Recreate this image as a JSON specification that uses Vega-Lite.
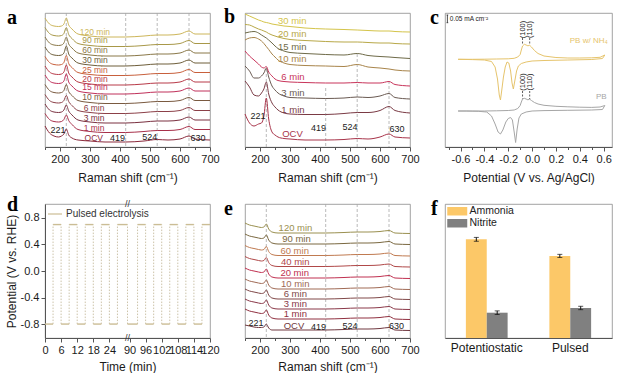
{
"$schema":"https://vega.github.io/schema/vega-lite/v6.json",
"background":"white",
"padding":{"left":4,"top":6,"right":2,"bottom":0},
"config":{
 "font":"Liberation Sans",
 "view":{"stroke":"#8c8c8c","strokeWidth":0.8},
 "axis":{"labelFont":"Liberation Sans","titleFont":"Liberation Sans","labelFontSize":11,"titleFontSize":12,"titleFontWeight":"normal","labelColor":"#1a1a1a","titleColor":"#1a1a1a","domainColor":"#555555","tickColor":"#555555","grid":false,"labelFlush":false,"labelOverlap":false,"tickSize":4,"labelPadding":2},
 "legend":{"labelFont":"Liberation Sans"},
 "title":{"font":"Liberation Serif","fontSize":20,"fontWeight":"bold","anchor":"start","frame":"group","color":"#000000","baseline":"alphabetic"}
},
"columns":3,
"spacing":{"row":57,"column":35},
"bounds":"flush",
"resolve":{"scale":{"color":"independent","xOffset":"independent"},"legend":{"color":"independent"}},
"concat":[
{
 "width":165,"height":134,
 "title":{"text":"a","dx":-38,"offset":-15},
 "resolve":{"axis":{"x":"independent"}},
 "encoding":{
  "x":{"field":"x","type":"quantitative","scale":{"domain":[150,700],"nice":false,"zero":false},"axis":null},
  "y":{"field":"y","type":"quantitative","scale":{"domain":[0,134],"reverse":true,"nice":false,"zero":false},"axis":null}
 },
 "layer":[
  {"data":{"values":[{"x":221,"y":0,"y2":134},{"x":419,"y":0,"y2":134},{"x":524,"y":0,"y2":134},{"x":630,"y":0,"y2":134}]},
   "mark":{"type":"rule","strokeDash":[3,2],"color":"#a8a8a8","strokeWidth":0.8},
   "encoding":{"x":{"field":"x","type":"quantitative","scale":{"domain":[150,700],"nice":false,"zero":false},"axis":{"orient":"bottom","values":[150,250,350,450,550,650],"labels":false,"domain":false,"title":null,"tickSize":2.5}},"y2":{"field":"y2"}}},
  {"data":{"values":[
   {"x":150,"OCV":113,"1 min":100.5,"3 min":91,"6 min":81.5,"10 min":71.5,"15 min":62,"20 min":53,"25 min":43.5,"30 min":34,"60 min":24,"90 min":14.5,"120 min":5},
   {"x":165,"OCV":120,"1 min":106.5,"3 min":97,"6 min":87.5,"10 min":77.5,"15 min":68,"20 min":59,"25 min":49.5,"30 min":40,"60 min":30,"90 min":20.5,"120 min":11},
   {"x":180,"OCV":123,"1 min":108.5,"3 min":99,"6 min":89.5,"10 min":79.5,"15 min":70,"20 min":61,"25 min":51.5,"30 min":42,"60 min":32,"90 min":22.5,"120 min":13},
   {"x":195,"OCV":124,"1 min":109,"3 min":99.5,"6 min":90,"10 min":80,"15 min":70.5,"20 min":61.5,"25 min":52,"30 min":42.5,"60 min":32.5,"90 min":23,"120 min":13.5},
   {"x":205,"OCV":123,"1 min":108.5,"3 min":99,"6 min":89.5,"10 min":79.5,"15 min":70,"20 min":61,"25 min":51.5,"30 min":42,"60 min":32,"90 min":22.5,"120 min":13},
   {"x":213,"OCV":121,"1 min":106.5,"3 min":97,"6 min":87.5,"10 min":77.5,"15 min":68,"20 min":59,"25 min":49.5,"30 min":40,"60 min":30,"90 min":20.5,"120 min":11},
   {"x":221,"OCV":116,"1 min":102,"3 min":92,"6 min":82.5,"10 min":71.5,"15 min":61,"20 min":52,"25 min":42.5,"30 min":33,"60 min":24,"90 min":14.5,"120 min":5},
   {"x":229,"OCV":122,"1 min":107.5,"3 min":98,"6 min":88.5,"10 min":78.5,"15 min":69,"20 min":60,"25 min":50.5,"30 min":41,"60 min":31,"90 min":21.5,"120 min":12},
   {"x":240,"OCV":125,"1 min":111.5,"3 min":102,"6 min":92.5,"10 min":82.5,"15 min":73,"20 min":64,"25 min":54.5,"30 min":45,"60 min":35,"90 min":25.5,"120 min":16},
   {"x":260,"OCV":127,"1 min":116.5,"3 min":107,"6 min":97.5,"10 min":87.5,"15 min":78,"20 min":69,"25 min":59.5,"30 min":50,"60 min":40,"90 min":30.5,"120 min":21},
   {"x":300,"OCV":128,"1 min":118.5,"3 min":109,"6 min":99.5,"10 min":89.5,"15 min":80,"20 min":71,"25 min":61.5,"30 min":52,"60 min":42,"90 min":32.5,"120 min":23},
   {"x":350,"OCV":129,"1 min":119.5,"3 min":110,"6 min":100.5,"10 min":90.5,"15 min":81,"20 min":72,"25 min":62.5,"30 min":53,"60 min":43,"90 min":33.5,"120 min":24},
   {"x":419,"OCV":129,"1 min":119.5,"3 min":110,"6 min":100.5,"10 min":90.5,"15 min":81,"20 min":72,"25 min":62.5,"30 min":53,"60 min":43,"90 min":33.5,"120 min":24},
   {"x":480,"OCV":128,"1 min":118.5,"3 min":109,"6 min":99.5,"10 min":89.5,"15 min":80,"20 min":71,"25 min":61.5,"30 min":52,"60 min":42,"90 min":32.5,"120 min":23},
   {"x":524,"OCV":126.5,"1 min":117.5,"3 min":108,"6 min":98.5,"10 min":88.5,"15 min":79,"20 min":70,"25 min":60.5,"30 min":51,"60 min":41,"90 min":31.5,"120 min":22},
   {"x":560,"OCV":127,"1 min":117.5,"3 min":108,"6 min":98.5,"10 min":88.5,"15 min":79,"20 min":70,"25 min":60.5,"30 min":51,"60 min":41,"90 min":31.5,"120 min":22},
   {"x":600,"OCV":126,"1 min":116.5,"3 min":107,"6 min":97.5,"10 min":87.5,"15 min":78,"20 min":69,"25 min":59.5,"30 min":50,"60 min":40,"90 min":30.5,"120 min":21},
   {"x":630,"OCV":123,"1 min":113.5,"3 min":104,"6 min":94.5,"10 min":84.5,"15 min":75,"20 min":66,"25 min":56.5,"30 min":47,"60 min":37,"90 min":27.5,"120 min":18},
   {"x":650,"OCV":126,"1 min":116.5,"3 min":107,"6 min":97.5,"10 min":87.5,"15 min":78,"20 min":69,"25 min":59.5,"30 min":50,"60 min":40,"90 min":30.5,"120 min":21},
   {"x":700,"OCV":127,"1 min":116.5,"3 min":107,"6 min":97.5,"10 min":87.5,"15 min":78,"20 min":69,"25 min":59.5,"30 min":50,"60 min":40,"90 min":30.5,"120 min":21}
  ]},
   "transform":[{"fold":["OCV","1 min","3 min","6 min","10 min","15 min","20 min","25 min","30 min","60 min","90 min","120 min"],"as":["s","y"]}],
   "mark":{"type":"line","strokeWidth":1,"interpolate":"monotone"},
   "encoding":{
    "x":{"field":"x","type":"quantitative","scale":{"domain":[150,700],"nice":false,"zero":false},"axis":{"orient":"bottom","values":[200,300,400,500,600,700],"title":"Raman shift (cm⁻¹)","titlePadding":8}},
    "y":{"field":"y","type":"quantitative","scale":{"domain":[0,134],"reverse":true,"nice":false,"zero":false},"axis":{"title":"Intensity (a.u.)","labels":false,"ticks":false,"titlePadding":6}},
    "color":{"field":"s","type":"nominal","scale":{"domain":["OCV","1 min","3 min","6 min","10 min","15 min","20 min","25 min","30 min","60 min","90 min","120 min"],"range":["#8b2a3c","#a8304a","#7a3040","#8c4048","#7a5a40","#c0305a","#b83a48","#c8603c","#6e5e3a","#8a7848","#a89848","#cdb65a"]},"legend":null}}},
  {"data":{"values":[{"s":"120 min","x":266,"y":18.7},{"s":"90 min","x":274,"y":27.3},{"s":"60 min","x":274,"y":37.3},{"s":"30 min","x":274,"y":47.3},{"s":"25 min","x":274,"y":57.3},{"s":"20 min","x":274,"y":65.7},{"s":"15 min","x":274,"y":74},{"s":"10 min","x":274,"y":84},{"s":"6 min","x":279,"y":95.3},{"s":"3 min","x":279,"y":104.7},{"s":"1 min","x":279,"y":114.7},{"s":"OCV","x":282,"y":124.7}]},
   "mark":{"type":"text","align":"left","baseline":"middle","fontSize":8.5},
   "encoding":{"text":{"field":"s"},"color":{"field":"s","type":"nominal","scale":{"domain":["OCV","1 min","3 min","6 min","10 min","15 min","20 min","25 min","30 min","60 min","90 min","120 min"],"range":["#8b2a3c","#a8304a","#7a3040","#8c4048","#7a5a40","#c0305a","#b83a48","#c8603c","#6e5e3a","#8a7848","#a89848","#cdb65a"]},"legend":null}}},
  {"data":{"values":[{"t":"221","x":193,"y":116.5},{"t":"419","x":392,"y":124.7},{"t":"524","x":499,"y":124},{"t":"630","x":660,"y":124.7}]},
   "mark":{"type":"text","align":"center","baseline":"middle","fontSize":9,"color":"#222222"},
   "encoding":{"text":{"field":"t"}}}
 ]
},
{
 "width":165,"height":134,
 "title":{"text":"b","dx":-21,"offset":-15},
 "resolve":{"axis":{"x":"independent"}},
 "encoding":{
  "x":{"field":"x","type":"quantitative","scale":{"domain":[150,700],"nice":false,"zero":false},"axis":null},
  "y":{"field":"y","type":"quantitative","scale":{"domain":[0,134],"reverse":true,"nice":false,"zero":false},"axis":null}
 },
 "layer":[
  {"data":{"values":[{"x":221,"y":56,"y2":134},{"x":419,"y":75,"y2":134},{"x":524,"y":41,"y2":134},{"x":630,"y":68,"y2":134}]},
   "mark":{"type":"rule","strokeDash":[3,2],"color":"#a8a8a8","strokeWidth":0.8},
   "encoding":{"x":{"field":"x","type":"quantitative","scale":{"domain":[150,700],"nice":false,"zero":false},"axis":{"orient":"bottom","values":[150,250,350,450,550,650],"labels":false,"domain":false,"title":null,"tickSize":2.5}},"y2":{"field":"y2"}}},
  {"data":{"values":[
   {"x":150,"OCV":101,"1 min":68,"3 min":53,"6 min":38,"10 min":27,"15 min":20,"20 min":11.5,"30 min":1},
   {"x":165,"OCV":110,"1 min":74,"3 min":58,"6 min":43,"10 min":25,"15 min":19,"20 min":12,"30 min":3},
   {"x":180,"OCV":113,"1 min":82,"3 min":65,"6 min":47,"10 min":24.5,"15 min":18.5,"20 min":14,"30 min":5},
   {"x":195,"OCV":111,"1 min":83,"3 min":65,"6 min":51,"10 min":26,"15 min":20,"20 min":16,"30 min":7},
   {"x":205,"OCV":110,"1 min":80,"3 min":63,"6 min":54,"10 min":28,"15 min":22,"20 min":17,"30 min":8},
   {"x":213,"OCV":103,"1 min":76,"3 min":60,"6 min":55,"10 min":30.5,"15 min":23.5,"20 min":18,"30 min":9},
   {"x":221,"OCV":85,"1 min":69,"3 min":55,"6 min":53.5,"10 min":33.5,"15 min":25,"20 min":19,"30 min":9.5},
   {"x":229,"OCV":106,"1 min":81,"3 min":64,"6 min":59,"10 min":36.5,"15 min":27,"20 min":20.5,"30 min":10},
   {"x":240,"OCV":119,"1 min":90,"3 min":73,"6 min":63,"10 min":41,"15 min":30,"20 min":22,"30 min":11},
   {"x":250,"OCV":122,"1 min":94,"3 min":77,"6 min":66,"10 min":44,"15 min":33,"20 min":23,"30 min":11.5},
   {"x":260,"OCV":124,"1 min":97,"3 min":80,"6 min":67.5,"10 min":47,"15 min":35.5,"20 min":24,"30 min":12},
   {"x":280,"OCV":125.5,"1 min":100,"3 min":83,"6 min":68.5,"10 min":50,"15 min":38,"20 min":25.5,"30 min":13},
   {"x":300,"OCV":126,"1 min":101,"3 min":84.5,"6 min":69,"10 min":51.5,"15 min":39.5,"20 min":26.5,"30 min":13.5},
   {"x":350,"OCV":127,"1 min":101.5,"3 min":85,"6 min":69.5,"10 min":52.5,"15 min":40.5,"20 min":27.5,"30 min":15},
   {"x":419,"OCV":127,"1 min":101.5,"3 min":85.5,"6 min":70,"10 min":53,"15 min":41.5,"20 min":28.5,"30 min":16},
   {"x":480,"OCV":126.5,"1 min":100.5,"3 min":85,"6 min":70,"10 min":53.5,"15 min":42,"20 min":29,"30 min":16.5},
   {"x":524,"OCV":125.5,"1 min":99.5,"3 min":84,"6 min":69.5,"10 min":51.5,"15 min":40.5,"20 min":29,"30 min":17},
   {"x":560,"OCV":126,"1 min":99.5,"3 min":84.5,"6 min":70,"10 min":54,"15 min":42.5,"20 min":29.5,"30 min":17.5},
   {"x":600,"OCV":124,"1 min":97.5,"3 min":83,"6 min":70,"10 min":55,"15 min":43.5,"20 min":30,"30 min":18},
   {"x":630,"OCV":121,"1 min":93.5,"3 min":80.5,"6 min":68.5,"10 min":56,"15 min":44,"20 min":30,"30 min":18},
   {"x":650,"OCV":124,"1 min":97.5,"3 min":84.5,"6 min":71.5,"10 min":57,"15 min":44.5,"20 min":30.5,"30 min":18.5},
   {"x":700,"OCV":125,"1 min":100,"3 min":86,"6 min":73,"10 min":58,"15 min":45.5,"20 min":31,"30 min":19}
  ]},
   "transform":[{"fold":["OCV","1 min","3 min","6 min","10 min","15 min","20 min","30 min"],"as":["s","y"]}],
   "mark":{"type":"line","strokeWidth":1,"interpolate":"monotone"},
   "encoding":{
    "x":{"field":"x","type":"quantitative","scale":{"domain":[150,700],"nice":false,"zero":false},"axis":{"orient":"bottom","values":[200,300,400,500,600,700],"title":"Raman shift (cm⁻¹)","titlePadding":8}},
    "y":{"field":"y","type":"quantitative","scale":{"domain":[0,134],"reverse":true,"nice":false,"zero":false},"axis":{"title":"Intensity (a.u.)","labels":false,"ticks":false,"titlePadding":2}},
    "color":{"field":"s","type":"nominal","scale":{"domain":["OCV","1 min","3 min","6 min","10 min","15 min","20 min","30 min"],"range":["#a8344a","#7a3a44","#6a5a52","#c8345a","#a8844a","#6e6a48","#b8a848","#d4c44a"]},"legend":null}}},
  {"data":{"values":[{"s":"30 min","x":260,"y":8},{"s":"20 min","x":260,"y":20.7},{"s":"15 min","x":260,"y":34},{"s":"10 min","x":260,"y":46.3},{"s":"6 min","x":271,"y":63.7},{"s":"3 min","x":271,"y":79.7},{"s":"1 min","x":271,"y":97},{"s":"OCV","x":274,"y":120.7}]},
   "mark":{"type":"text","align":"left","baseline":"middle","fontSize":9.5},
   "encoding":{"text":{"field":"s"},"color":{"field":"s","type":"nominal","scale":{"domain":["OCV","1 min","3 min","6 min","10 min","15 min","20 min","30 min"],"range":["#a8344a","#7a3a44","#6a5a52","#c8345a","#a8844a","#6e6a48","#b8a848","#d4c44a"]},"legend":null}}},
  {"data":{"values":[{"t":"221","x":193,"y":103},{"t":"419","x":395,"y":114.7},{"t":"524","x":500,"y":114},{"t":"630","x":657,"y":115.7}]},
   "mark":{"type":"text","align":"center","baseline":"middle","fontSize":9,"color":"#222222"},
   "encoding":{"text":{"field":"t"}}}
 ]
},
{
 "width":167,"height":134,
 "title":{"text":"c","dx":-15,"offset":-15},
 "resolve":{"axis":{"x":"independent"}},
 "encoding":{
  "x":{"field":"x","type":"quantitative","scale":{"domain":[-0.73,0.67],"nice":false,"zero":false},"axis":null},
  "y":{"field":"y","type":"quantitative","scale":{"domain":[0,134],"reverse":true,"nice":false,"zero":false},"axis":null}
 },
 "layer":[
  {"data":{"values":[
   {"s":"NH","o":0,"x":-0.62,"y":46.3},{"s":"NH","o":1,"x":-0.5,"y":46.3},{"s":"NH","o":2,"x":-0.4,"y":46.2},{"s":"NH","o":3,"x":-0.3,"y":46},{"s":"NH","o":4,"x":-0.2,"y":45.8},{"s":"NH","o":5,"x":-0.15,"y":45.3},{"s":"NH","o":6,"x":-0.12,"y":44},{"s":"NH","o":7,"x":-0.1,"y":41.5},{"s":"NH","o":8,"x":-0.09,"y":37},{"s":"NH","o":9,"x":-0.08,"y":33},{"s":"NH","o":10,"x":-0.065,"y":31.3},{"s":"NH","o":11,"x":-0.05,"y":32},{"s":"NH","o":12,"x":-0.035,"y":32.8},{"s":"NH","o":13,"x":-0.02,"y":32.3},{"s":"NH","o":14,"x":-0.005,"y":34},{"s":"NH","o":15,"x":0.02,"y":37.5},{"s":"NH","o":16,"x":0.05,"y":40.5},{"s":"NH","o":17,"x":0.1,"y":43},{"s":"NH","o":18,"x":0.2,"y":44.5},{"s":"NH","o":19,"x":0.3,"y":45},{"s":"NH","o":20,"x":0.4,"y":45},{"s":"NH","o":21,"x":0.5,"y":44.8},{"s":"NH","o":22,"x":0.57,"y":44.3},{"s":"NH","o":23,"x":0.61,"y":42},
   {"s":"NH","o":24,"x":0.59,"y":45.5},{"s":"NH","o":25,"x":0.5,"y":46.5},{"s":"NH","o":26,"x":0.3,"y":47},{"s":"NH","o":27,"x":0.1,"y":47.5},{"s":"NH","o":28,"x":0,"y":48},{"s":"NH","o":29,"x":-0.05,"y":49},{"s":"NH","o":30,"x":-0.09,"y":50.5},{"s":"NH","o":31,"x":-0.115,"y":53},{"s":"NH","o":32,"x":-0.13,"y":58},{"s":"NH","o":33,"x":-0.145,"y":68},{"s":"NH","o":34,"x":-0.157,"y":76},{"s":"NH","o":35,"x":-0.168,"y":70},{"s":"NH","o":36,"x":-0.18,"y":58},{"s":"NH","o":37,"x":-0.195,"y":50},{"s":"NH","o":38,"x":-0.21,"y":49},{"s":"NH","o":39,"x":-0.225,"y":54},{"s":"NH","o":40,"x":-0.24,"y":64},{"s":"NH","o":41,"x":-0.255,"y":78},{"s":"NH","o":42,"x":-0.265,"y":87},{"s":"NH","o":43,"x":-0.275,"y":82},{"s":"NH","o":44,"x":-0.29,"y":66},{"s":"NH","o":45,"x":-0.31,"y":54},{"s":"NH","o":46,"x":-0.34,"y":48.5},{"s":"NH","o":47,"x":-0.4,"y":47},{"s":"NH","o":48,"x":-0.5,"y":46.6},{"s":"NH","o":49,"x":-0.62,"y":46.3},
   {"s":"PB","o":0,"x":-0.62,"y":98},{"s":"PB","o":1,"x":-0.5,"y":98},{"s":"PB","o":2,"x":-0.4,"y":98},{"s":"PB","o":3,"x":-0.3,"y":97.8},{"s":"PB","o":4,"x":-0.2,"y":97.5},{"s":"PB","o":5,"x":-0.15,"y":97},{"s":"PB","o":6,"x":-0.12,"y":95.5},{"s":"PB","o":7,"x":-0.1,"y":92.5},{"s":"PB","o":8,"x":-0.09,"y":89},{"s":"PB","o":9,"x":-0.08,"y":86},{"s":"PB","o":10,"x":-0.065,"y":85.3},{"s":"PB","o":11,"x":-0.05,"y":86},{"s":"PB","o":12,"x":-0.035,"y":86.8},{"s":"PB","o":13,"x":-0.02,"y":86.2},{"s":"PB","o":14,"x":-0.005,"y":87.5},{"s":"PB","o":15,"x":0.02,"y":89.5},{"s":"PB","o":16,"x":0.05,"y":91},{"s":"PB","o":17,"x":0.1,"y":92.3},{"s":"PB","o":18,"x":0.2,"y":93.3},{"s":"PB","o":19,"x":0.3,"y":93.8},{"s":"PB","o":20,"x":0.4,"y":94.2},{"s":"PB","o":21,"x":0.5,"y":94.4},{"s":"PB","o":22,"x":0.57,"y":94},{"s":"PB","o":23,"x":0.61,"y":92.5},
   {"s":"PB","o":24,"x":0.59,"y":96.5},{"s":"PB","o":25,"x":0.5,"y":97},{"s":"PB","o":26,"x":0.3,"y":97.3},{"s":"PB","o":27,"x":0.1,"y":97.6},{"s":"PB","o":28,"x":0,"y":98},{"s":"PB","o":29,"x":-0.05,"y":99},{"s":"PB","o":30,"x":-0.09,"y":101},{"s":"PB","o":31,"x":-0.11,"y":105},{"s":"PB","o":32,"x":-0.125,"y":116},{"s":"PB","o":33,"x":-0.138,"y":129.5},{"s":"PB","o":34,"x":-0.15,"y":119},{"s":"PB","o":35,"x":-0.165,"y":107},{"s":"PB","o":36,"x":-0.18,"y":104.5},{"s":"PB","o":37,"x":-0.2,"y":105.5},{"s":"PB","o":38,"x":-0.22,"y":109},{"s":"PB","o":39,"x":-0.245,"y":117},{"s":"PB","o":40,"x":-0.265,"y":121},{"s":"PB","o":41,"x":-0.285,"y":119},{"s":"PB","o":42,"x":-0.31,"y":111},{"s":"PB","o":43,"x":-0.34,"y":103},{"s":"PB","o":44,"x":-0.38,"y":99},{"s":"PB","o":45,"x":-0.45,"y":98.3},{"s":"PB","o":46,"x":-0.55,"y":98},{"s":"PB","o":47,"x":-0.62,"y":98}
  ]},
   "mark":{"type":"line","strokeWidth":1},
   "encoding":{
    "x":{"field":"x","type":"quantitative","scale":{"domain":[-0.73,0.67],"nice":false,"zero":false},"axis":{"orient":"bottom","values":[-0.6,-0.4,-0.2,0,0.2,0.4,0.6],"labelExpr":"replace(format(datum.value, '.1f'), '\u2212', '-')","title":"Potential (V vs. Ag/AgCl)","titlePadding":8}},
    "y":{"field":"y","type":"quantitative","scale":{"domain":[0,134],"reverse":true,"nice":false,"zero":false},"axis":{"title":"Current density (mA cm⁻²)","labels":false,"ticks":false,"titlePadding":2}},
    "order":{"field":"o","type":"quantitative"},"color":{"field":"s","type":"nominal","scale":{"domain":["NH","PB"],"range":["#e6c46c","#a6a6a6"]},"legend":null}}},
  {"data":{"values":[{"x":-0.08,"y":25,"y2":31},{"x":-0.02,"y":25,"y2":32},{"x":-0.08,"y":78,"y2":85.5},{"x":-0.02,"y":78,"y2":86}]},
   "mark":{"type":"rule","strokeDash":[2,1.5],"color":"#333333","strokeWidth":0.8},
   "encoding":{"x":{"field":"x","type":"quantitative","scale":{"domain":[-0.73,0.67],"nice":false,"zero":false},"axis":{"orient":"bottom","values":[-0.7,-0.5,-0.3,-0.1,0.1,0.3,0.5],"labels":false,"domain":false,"title":null,"tickSize":2.5}},"y2":{"field":"y2"}}},
  {"data":{"values":[{"x":-0.08,"y":16.5,"t":"(100)"},{"x":-0.02,"y":16.5,"t":"(110)"},{"x":-0.08,"y":69,"t":"(100)"},{"x":-0.02,"y":69,"t":"(110)"}]},
   "mark":{"type":"text","angle":270,"align":"center","baseline":"middle","fontSize":7.5,"color":"#222222"},
   "encoding":{"text":{"field":"t"}}},
  {"data":{"values":[{"x":0.316,"y":28,"t":"PB w/ NH₄","s":"NH"},{"x":0.535,"y":84,"t":"PB","s":"PB"}]},
   "mark":{"type":"text","align":"left","baseline":"middle","fontSize":8},
   "encoding":{"text":{"field":"t"},"color":{"field":"s","type":"nominal","scale":{"domain":["NH","PB"],"range":["#e6c46c","#a6a6a6"]},"legend":null}}},
  {"data":{"values":[{"x":-0.71,"x2":-0.71,"y":2,"y2":9.7},{"x":-0.717,"x2":-0.703,"y":2,"y2":2},{"x":-0.717,"x2":-0.703,"y":9.7,"y2":9.7}]},
   "mark":{"type":"rule","color":"#222222","strokeWidth":0.8},
   "encoding":{"x2":{"field":"x2"},"y2":{"field":"y2"}}},
  {"data":{"values":[{"x":-0.69,"y":5.5,"t":"0.05 mA cm⁻²"}]},
   "mark":{"type":"text","align":"left","baseline":"middle","fontSize":6.5,"color":"#222222"},
   "encoding":{"text":{"field":"t"}}}
 ]
},
{
 "width":165,"height":134,
 "title":{"text":"d","dx":-38,"offset":-15},
 "encoding":{
  "x":{"field":"x","type":"quantitative","scale":{"domain":[0,61.5],"nice":false,"zero":false},"axis":{"values":[0,6,12,18,24,31.5,37.5,43.5,49.5,55.5,61.5],"labelExpr":"datum.value > 30 ? format(datum.value + 58.5, 'd') : format(datum.value, 'd')","title":"Time (min)","titlePadding":6}},
  "y":{"field":"y","type":"quantitative","scale":{"domain":[-1.01,1.01],"nice":false,"zero":false},"axis":{"values":[-0.8,-0.4,0,0.4,0.8],"labelExpr":"replace(format(datum.value, '.1f'), '\u2212', '-')","title":"Potential (V vs. RHE)","titlePadding":2}}
 },
 "layer":[
  {"data":{"values":[{"x":3,"y":-0.8,"y2":0.7},{"x":6,"y":-0.8,"y2":0.7},{"x":9,"y":-0.8,"y2":0.7},{"x":12,"y":-0.8,"y2":0.7},{"x":15,"y":-0.8,"y2":0.7},{"x":18,"y":-0.8,"y2":0.7},{"x":21,"y":-0.8,"y2":0.7},{"x":24,"y":-0.8,"y2":0.7},{"x":27,"y":-0.8,"y2":0.7},{"x":30.75,"y":-0.8,"y2":0.7},{"x":34.5,"y":-0.8,"y2":0.7},{"x":37.5,"y":-0.8,"y2":0.7},{"x":40.5,"y":-0.8,"y2":0.7},{"x":43.5,"y":-0.8,"y2":0.7},{"x":46.5,"y":-0.8,"y2":0.7},{"x":49.5,"y":-0.8,"y2":0.7},{"x":52.5,"y":-0.8,"y2":0.7},{"x":55.5,"y":-0.8,"y2":0.7},{"x":58.5,"y":-0.8,"y2":0.7}]},
   "mark":{"type":"rule","strokeDash":[1.5,1.5],"color":"#bfb493","strokeWidth":0.8},
   "encoding":{"y2":{"field":"y2"}}},
  {"data":{"values":[{"x":0,"x2":3,"y":-0.8},{"x":3,"x2":6,"y":0.7},{"x":6,"x2":9,"y":-0.8},{"x":9,"x2":12,"y":0.7},{"x":12,"x2":15,"y":-0.8},{"x":15,"x2":18,"y":0.7},{"x":18,"x2":21,"y":-0.8},{"x":21,"x2":24,"y":0.7},{"x":24,"x2":27,"y":-0.8},{"x":27,"x2":30.75,"y":0.7},{"x":30.75,"x2":34.5,"y":-0.8},{"x":34.5,"x2":37.5,"y":0.7},{"x":37.5,"x2":40.5,"y":-0.8},{"x":40.5,"x2":43.5,"y":0.7},{"x":43.5,"x2":46.5,"y":-0.8},{"x":46.5,"x2":49.5,"y":0.7},{"x":49.5,"x2":52.5,"y":-0.8},{"x":52.5,"x2":55.5,"y":0.7},{"x":55.5,"x2":58.5,"y":-0.8},{"x":58.5,"x2":61.5,"y":0.7}]},
   "mark":{"type":"rule","strokeWidth":1.4},
   "encoding":{"x2":{"field":"x2"},"color":{"datum":"Pulsed electrolysis","type":"nominal","scale":{"range":["#cbbd95"]},"legend":{"orient":"top-left","offset":2,"title":null,"symbolType":"stroke","symbolSize":196,"symbolStrokeWidth":1.2,"labelFontSize":10,"labelOffset":3,"padding":0,"labelColor":"#333333"}}}},
  {"data":{"values":[{"x":30.75,"y":1.01,"t":"//"},{"x":30.75,"y":-1.01,"t":"//"}]},
   "mark":{"type":"text","align":"center","baseline":"middle","fontSize":9,"color":"#333333"},
   "encoding":{"text":{"field":"t"}}}
 ]
},
{
 "width":165,"height":134,
 "title":{"text":"e","dx":-21,"offset":-15},
 "resolve":{"axis":{"x":"independent"}},
 "encoding":{
  "x":{"field":"x","type":"quantitative","scale":{"domain":[150,700],"nice":false,"zero":false},"axis":null},
  "y":{"field":"y","type":"quantitative","scale":{"domain":[0,134],"reverse":true,"nice":false,"zero":false},"axis":null}
 },
 "layer":[
  {"data":{"values":[{"x":221,"y":0,"y2":134},{"x":419,"y":0,"y2":134},{"x":524,"y":0,"y2":134},{"x":630,"y":0,"y2":134}]},
   "mark":{"type":"rule","strokeDash":[3,2],"color":"#a8a8a8","strokeWidth":0.8},
   "encoding":{"x":{"field":"x","type":"quantitative","scale":{"domain":[150,700],"nice":false,"zero":false},"axis":{"orient":"bottom","values":[150,250,350,450,550,650],"labels":false,"domain":false,"title":null,"tickSize":2.5}},"y2":{"field":"y2"}}},
  {"data":{"values":[
   {"x":150,"OCV":121,"1 min":105,"3 min":95,"6 min":85,"10 min":75,"20 min":64,"40 min":52.5,"60 min":41.5,"90 min":30,"120 min":19},
   {"x":165,"OCV":122,"1 min":107,"3 min":97,"6 min":87,"10 min":77,"20 min":66,"40 min":54.5,"60 min":43.5,"90 min":32,"120 min":21},
   {"x":180,"OCV":123,"1 min":108,"3 min":98,"6 min":88,"10 min":78,"20 min":67,"40 min":55.5,"60 min":44.5,"90 min":33,"120 min":22},
   {"x":195,"OCV":123.5,"1 min":109,"3 min":99,"6 min":89,"10 min":79,"20 min":68,"40 min":56.5,"60 min":45.5,"90 min":34,"120 min":23},
   {"x":205,"OCV":123.5,"1 min":109.5,"3 min":99.5,"6 min":89.5,"10 min":79.5,"20 min":68.5,"40 min":57,"60 min":46,"90 min":34.5,"120 min":23.5},
   {"x":213,"OCV":123,"1 min":109,"3 min":99,"6 min":89,"10 min":79,"20 min":68,"40 min":56.5,"60 min":45.5,"90 min":34,"120 min":23},
   {"x":221,"OCV":120,"1 min":106,"3 min":96,"6 min":86,"10 min":76,"20 min":65,"40 min":53.5,"60 min":42.5,"90 min":31,"120 min":20},
   {"x":229,"OCV":124,"1 min":111,"3 min":101,"6 min":91,"10 min":81,"20 min":70,"40 min":58.5,"60 min":47.5,"90 min":36,"120 min":25},
   {"x":240,"OCV":126,"1 min":114,"3 min":104,"6 min":94,"10 min":84,"20 min":73,"40 min":61.5,"60 min":50.5,"90 min":39,"120 min":28},
   {"x":260,"OCV":126,"1 min":115,"3 min":105,"6 min":95,"10 min":85,"20 min":74,"40 min":62.5,"60 min":51.5,"90 min":40,"120 min":29},
   {"x":300,"OCV":126,"1 min":115,"3 min":105,"6 min":95,"10 min":85,"20 min":74,"40 min":62.5,"60 min":51.5,"90 min":40,"120 min":29},
   {"x":350,"OCV":126,"1 min":115,"3 min":105,"6 min":95,"10 min":85,"20 min":74,"40 min":62.5,"60 min":51.5,"90 min":40,"120 min":29},
   {"x":419,"OCV":126,"1 min":115,"3 min":105,"6 min":95,"10 min":85,"20 min":74,"40 min":62.5,"60 min":51.5,"90 min":40,"120 min":29},
   {"x":480,"OCV":125.5,"1 min":114.5,"3 min":104.5,"6 min":94.5,"10 min":84.5,"20 min":73.5,"40 min":62,"60 min":51,"90 min":39.5,"120 min":28.5},
   {"x":524,"OCV":125,"1 min":114,"3 min":104,"6 min":94,"10 min":84,"20 min":73,"40 min":61.5,"60 min":50.5,"90 min":39,"120 min":28},
   {"x":560,"OCV":125,"1 min":114,"3 min":104,"6 min":94,"10 min":84,"20 min":73,"40 min":61.5,"60 min":50.5,"90 min":39,"120 min":28},
   {"x":600,"OCV":124.5,"1 min":113.5,"3 min":103.5,"6 min":93.5,"10 min":83.5,"20 min":72.5,"40 min":61,"60 min":50,"90 min":38.5,"120 min":27.5},
   {"x":630,"OCV":123.5,"1 min":112.5,"3 min":102.5,"6 min":92.5,"10 min":82.5,"20 min":71.5,"40 min":60,"60 min":49,"90 min":37.5,"120 min":26.5},
   {"x":650,"OCV":126,"1 min":115,"3 min":105,"6 min":95,"10 min":85,"20 min":74,"40 min":62.5,"60 min":51.5,"90 min":40,"120 min":29},
   {"x":700,"OCV":126.5,"1 min":115.5,"3 min":105.5,"6 min":95.5,"10 min":85.5,"20 min":74.5,"40 min":63,"60 min":52,"90 min":40.5,"120 min":29.5}
  ]},
   "transform":[{"fold":["OCV","1 min","3 min","6 min","10 min","20 min","40 min","60 min","90 min","120 min"],"as":["s","y"]}],
   "mark":{"type":"line","strokeWidth":1,"interpolate":"monotone"},
   "encoding":{
    "x":{"field":"x","type":"quantitative","scale":{"domain":[150,700],"nice":false,"zero":false},"axis":{"orient":"bottom","values":[200,300,400,500,600,700],"title":"Raman shift (cm⁻¹)","titlePadding":6}},
    "y":{"field":"y","type":"quantitative","scale":{"domain":[0,134],"reverse":true,"nice":false,"zero":false},"axis":{"title":"Intensity (a.u.)","labels":false,"ticks":false,"titlePadding":2}},
    "color":{"field":"s","type":"nominal","scale":{"domain":["OCV","1 min","3 min","6 min","10 min","20 min","40 min","60 min","90 min","120 min"],"range":["#703840","#903040","#8a3848","#804848","#a06a55","#c03050","#b04848","#c07a50","#7a6840","#9a9050"]},"legend":null}}},
  {"data":{"values":[{"s":"120 min","x":262,"y":24.3},{"s":"90 min","x":274,"y":35.3},{"s":"60 min","x":268,"y":46.7},{"s":"40 min","x":270,"y":57.7},{"s":"20 min","x":268,"y":69.3},{"s":"10 min","x":270,"y":80.3},{"s":"6 min","x":279,"y":90.3},{"s":"3 min","x":279,"y":100.3},{"s":"1 min","x":279,"y":110.3},{"s":"OCV","x":279,"y":122}]},
   "mark":{"type":"text","align":"left","baseline":"middle","fontSize":9.5},
   "encoding":{"text":{"field":"s"},"color":{"field":"s","type":"nominal","scale":{"domain":["OCV","1 min","3 min","6 min","10 min","20 min","40 min","60 min","90 min","120 min"],"range":["#703840","#903040","#8a3848","#804848","#a06a55","#c03050","#b04848","#c07a50","#7a6840","#9a9050"]},"legend":null}}},
  {"data":{"values":[{"t":"221","x":187,"y":119.3},{"t":"419","x":395,"y":122.7},{"t":"524","x":500,"y":122},{"t":"630","x":655,"y":122}]},
   "mark":{"type":"text","align":"center","baseline":"middle","fontSize":9,"color":"#222222"},
   "encoding":{"text":{"field":"t"}}}
 ]
},
{
 "width":167,"height":134,
 "title":{"text":"f","dx":-14,"offset":-15},
 "data":{"values":[
  {"c":"Potentiostatic","p":"Ammonia","v":81.5,"lo":79.9,"hi":83.1},
  {"c":"Potentiostatic","p":"Nitrite","v":20.9,"lo":19.4,"hi":22.4},
  {"c":"Pulsed","p":"Ammonia","v":67.8,"lo":66.5,"hi":69.1},
  {"c":"Pulsed","p":"Nitrite","v":24.8,"lo":23.4,"hi":26.2}
 ]},
 "encoding":{
  "x":{"field":"c","type":"nominal","sort":["Potentiostatic","Pulsed"],"scale":{"paddingInner":0.5,"paddingOuter":0.25},"axis":{"title":null,"labelAngle":0,"ticks":false,"labelFontSize":12,"labelPadding":4}},
  "xOffset":{"field":"p","type":"nominal","sort":["Ammonia","Nitrite"]}
 },
 "layer":[
  {"mark":{"type":"bar"},
   "encoding":{"y":{"field":"v","type":"quantitative","scale":{"domain":[0,110.7],"nice":false},"axis":{"values":[0,20,40,60,80,100],"title":"Faradaic efficiency (%)","titlePadding":4}},
    "color":{"field":"p","type":"nominal","scale":{"domain":["Ammonia","Nitrite"],"range":["#fcc868","#808080"]},"legend":{"orient":"top-left","offset":2,"title":null,"symbolType":"M-1,-0.85H3V0.85H-1Z","symbolSize":100,"symbolStrokeWidth":0,"symbolOpacity":1,"labelFontSize":10.5,"labelOffset":12,"padding":0,"rowPadding":1,"labelColor":"#222222"}}}},
  {"mark":{"type":"rule","color":"#111111","strokeWidth":1},
   "encoding":{"y":{"field":"lo","type":"quantitative","scale":{"domain":[0,110.7],"nice":false},"axis":null},"y2":{"field":"hi"}}},
  {"mark":{"type":"tick","color":"#111111","thickness":1,"size":5,"orient":"horizontal"},
   "encoding":{"y":{"field":"lo","type":"quantitative","scale":{"domain":[0,110.7],"nice":false},"axis":null}}},
  {"mark":{"type":"tick","color":"#111111","thickness":1,"size":5,"orient":"horizontal"},
   "encoding":{"y":{"field":"hi","type":"quantitative","scale":{"domain":[0,110.7],"nice":false},"axis":null}}}
 ]
}
]
}
